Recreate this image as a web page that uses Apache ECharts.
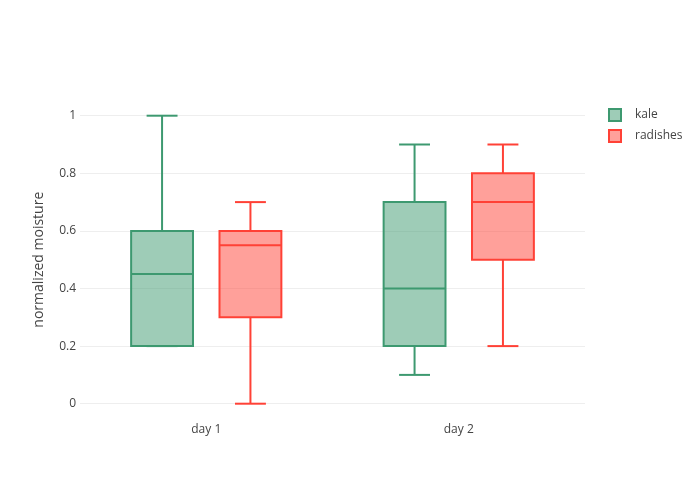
<!DOCTYPE html>
<html>
<head>
<meta charset="utf-8">
<script src="https://cdn.jsdelivr.net/npm/echarts@6/dist/echarts.min.js"></script>
<style>html,body{margin:0;padding:0;background:#fff}#c{width:700px;height:500px}</style>
</head>
<body>
<div id="c"></div>
<script>
// Data: [min, q1, median, q3, max] for each category
const categories = ['day 1', 'day 2'];
const kaleStats = [[0.2, 0.2, 0.45, 0.6, 1.0], [0.1, 0.2, 0.4, 0.7, 0.9]];
const radishStats = [[0.0, 0.3, 0.55, 0.6, 0.7], [0.2, 0.5, 0.7, 0.8, 0.9]];
const seriesNames = ['kale', 'radishes'];
const yTicks = [0, 0.2, 0.4, 0.6, 0.8, 1];

const lineColors = ['#3D9970', '#FF4136'];
const fillColors = ['rgba(61,153,112,0.5)', 'rgba(255,65,54,0.5)'];
const offsets = [-0.175, 0.175];
const BOX_W = 0.245;

function toData(stats) {
  return stats.map((s, i) => [i].concat(s));
}

function renderBox(params, api) {
  const si = params.seriesIndex;
  const cat = api.value(0);
  const band = api.size([1, 0])[0];
  const w = BOX_W * band;
  const pMin = api.coord([cat, api.value(1)]);
  const pQ1 = api.coord([cat, api.value(2)]);
  const pMed = api.coord([cat, api.value(3)]);
  const pQ3 = api.coord([cat, api.value(4)]);
  const pMax = api.coord([cat, api.value(5)]);
  const x = pMin[0] + offsets[si] * band;
  const stroke = { stroke: lineColors[si], lineWidth: 2, fill: null };
  return {
    type: 'group',
    children: [
      { type: 'rect', shape: { x: x - w / 2, y: pQ3[1], width: w, height: pQ1[1] - pQ3[1] },
        style: { fill: fillColors[si], stroke: lineColors[si], lineWidth: 2 } },
      { type: 'line', shape: { x1: x - w / 2, y1: pMed[1], x2: x + w / 2, y2: pMed[1] }, style: stroke },
      { type: 'line', shape: { x1: x, y1: pQ3[1], x2: x, y2: pMax[1] }, style: stroke },
      { type: 'line', shape: { x1: x, y1: pQ1[1], x2: x, y2: pMin[1] }, style: stroke },
      { type: 'line', shape: { x1: x - w / 4, y1: pMax[1], x2: x + w / 4, y2: pMax[1] }, style: stroke },
      { type: 'line', shape: { x1: x - w / 4, y1: pMin[1], x2: x + w / 4, y2: pMin[1] }, style: stroke }
    ]
  };
}

const chart = echarts.init(document.getElementById('c'), null, { renderer: 'canvas' });
const font = '"Open Sans", "Noto Sans", sans-serif';
chart.setOption({
  backgroundColor: '#fff',
  animation: false,
  textStyle: { fontFamily: font },
  grid: { left: 80, right: 115, top: 115.7, bottom: 96.3 },
  legend: {
    orient: 'vertical',
    left: 603,
    top: 103,
    itemWidth: 12,
    itemHeight: 12,
    itemGap: 7,
    textStyle: { fontFamily: font, fontSize: 12, color: '#444', lineHeight: 12, padding: [0, 0, 0, 9] },
    data: seriesNames.map((n, i) => ({
      name: n, icon: 'rect',
      itemStyle: { color: fillColors[i], borderColor: lineColors[i], borderWidth: 2 }
    }))
  },
  xAxis: {
    type: 'category',
    data: categories,
    axisLine: { show: false },
    axisTick: { show: false },
    splitLine: { show: false },
    axisLabel: { color: '#444', fontSize: 12, fontFamily: font, margin: 20 }
  },
  yAxis: {
    type: 'value',
    min: yTicks[0],
    max: yTicks[yTicks.length - 1],
    interval: 0.2,
    name: 'normalized moisture',
    nameLocation: 'middle',
    nameGap: 34,
    nameTextStyle: { color: '#444', fontSize: 14, fontFamily: font },
    axisLine: { show: false },
    axisTick: { show: false },
    splitLine: { lineStyle: { color: '#eee', width: 1 } },
    axisLabel: { color: '#444', fontSize: 12, fontFamily: font, margin: 4 }
  },
  series: [
    { name: seriesNames[0], type: 'custom', renderItem: renderBox, data: toData(kaleStats),
      encode: { x: 0, y: [1, 2, 3, 4, 5] }, itemStyle: { color: fillColors[0], borderColor: lineColors[0] } },
    { name: seriesNames[1], type: 'custom', renderItem: renderBox, data: toData(radishStats),
      encode: { x: 0, y: [1, 2, 3, 4, 5] }, itemStyle: { color: fillColors[1], borderColor: lineColors[1] } }
  ]
});
</script>
</body>
</html>
